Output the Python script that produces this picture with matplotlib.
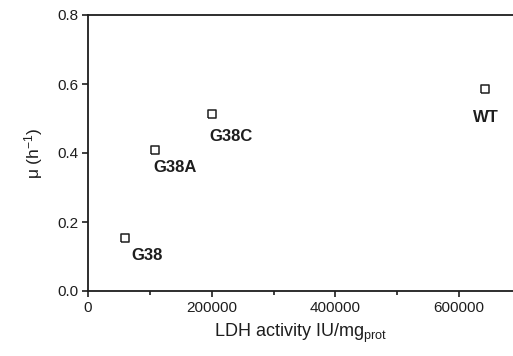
import matplotlib
matplotlib.use("Agg")
import matplotlib.pyplot as plt

# LDH activity vs. specific growth rate for each strain
strains = ["G38", "G38A", "G38C", "WT"]
ldh_activity = [60000, 109000, 200000, 641000]
growth_rate = [0.155, 0.41, 0.513, 0.586]
# label offsets (pixels) relative to each point
label_dx = [6.5, -2, -2, -12]
label_dy = [-10, -10, -15, -21]

x_ticks = [0, 200000, 400000, 600000]
y_ticks = [0.0, 0.2, 0.4, 0.6, 0.8]

plt.rcParams["font.family"] = ["Liberation Sans", "DejaVu Sans"]
plt.rcParams["mathtext.fontset"] = "custom"
plt.rcParams["mathtext.rm"] = "Liberation Sans"
plt.rcParams["mathtext.it"] = "Liberation Sans:italic"

ink = "#1e1e1e"

fig = plt.figure(figsize=(5.13, 3.56), dpi=100)
ax = fig.add_axes([88 / 513, 1 - 291 / 356, 1 - 88 / 513, (291 - 15) / 356])

# open rectangle marker, slightly wider than tall
rect = [(-1.25, -1), (1.25, -1), (1.25, 1), (-1.25, 1), (-1.25, -1)]
ax.plot(ldh_activity, growth_rate, linestyle="none", marker=rect,
        markersize=6.4, markerfacecolor="white", markeredgecolor=ink,
        markeredgewidth=1.1)

for name, x, y, dx, dy in zip(strains, ldh_activity, growth_rate, label_dx, label_dy):
    ax.annotate(name, (x, y), xytext=(dx, dy), textcoords="offset pixels",
                ha="left", va="top", fontsize=12, fontweight="bold", color=ink)

ax.set_xlim(0, 687000)
ax.set_ylim(0, 0.8)
ax.set_xticks(x_ticks)
ax.set_xticklabels([str(v) for v in x_ticks])
ax.set_xticks([100000, 300000, 500000], minor=True)
ax.set_yticks(y_ticks)
ax.set_yticklabels([f"{v:.1f}" for v in y_ticks])

ax.spines["right"].set_visible(False)
for side in ("left", "bottom", "top"):
    ax.spines[side].set_linewidth(1.3)
    ax.spines[side].set_color(ink)

ax.tick_params(axis="both", which="major", direction="out", length=4, width=1.2,
               labelsize=11, colors=ink, pad=3)
ax.tick_params(axis="x", which="minor", direction="out", length=3, width=1.2,
               colors=ink)

ax.set_xlabel("LDH activity IU/mg$_{\\mathrm{prot}}$", fontsize=13, color=ink,
              labelpad=5)
ax.set_ylabel("μ (h$^{-1}$)", fontsize=12.5, color=ink, labelpad=9)

fig.savefig("out.png", dpi=100)
